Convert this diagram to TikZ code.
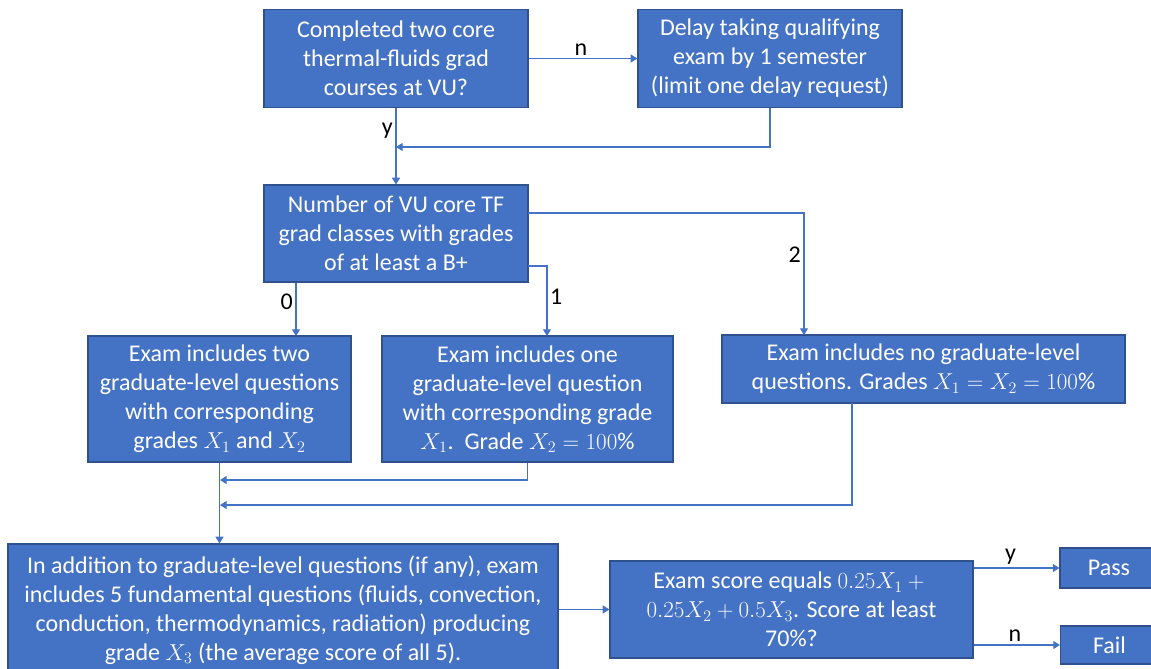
\documentclass[tikz,border=0pt]{standalone}
\usepackage{fontspec}
\setmainfont{Carlito}
\usetikzlibrary{arrows.meta}
\definecolor{boxfill}{HTML}{4472C4}
\definecolor{boxline}{HTML}{2F528F}
\definecolor{flowline}{HTML}{4472C4}
\begin{document}
\begin{tikzpicture}[x=0.75pt, y=-0.75pt,
		every node/.style={font=\fontsize{18}{21.75}\selectfont},
		block/.style={draw=boxline, line width=0.9pt, fill=boxfill, text=white, align=center, inner sep=0pt},
		flow/.style={draw=flowline, line width=0.8pt, -{Triangle[width=6pt,length=5pt]}},
		tag/.style={text=black, inner sep=2pt}]

		\useasboundingbox (0,0) rectangle (1151,668);

		% question du haut et report
		\node[block, minimum width=198pt, minimum height=73.5pt] (done) at (396,58.5)
			{Completed two core\\thermal-fluids grad\\courses at VU?};
		\node[block, minimum width=198pt, minimum height=73.5pt] (delay) at (770,58.5)
			{Delay taking qualifying\\exam by 1 semester\\(limit one delay request)};

		% nombre de cours
		\node[block, minimum width=198pt, minimum height=72.75pt] (count) at (396,233.5)
			{Number of VU core TF\\grad classes with grades\\of at least a B+};

		% trois cas
		\node[block, minimum width=197.25pt, minimum height=94.5pt] (two) at (219.5,399)
			{Exam includes two\\graduate-level questions\\with corresponding\\grades $X_1$ and $X_2$};
		\node[block, minimum width=218.25pt, minimum height=94.5pt] (one) at (527.5,399)
			{Exam includes one\\graduate-level question\\with corresponding grade\\$X_1$.\ \ Grade $X_2=100\%$};
		\node[block, minimum width=302.25pt, minimum height=51pt] (none) at (923.5,369)
			{Exam includes no graduate-level\\questions. Grades $X_1=X_2=100\%$};

		% questions fondamentales et score
		\node[block, minimum width=412.5pt, minimum height=99pt] (basic) at (283,610)
			{In addition to graduate-level questions (if any), exam\\includes 5 fundamental questions (fluids, convection,\\conduction, thermodynamics, radiation) producing\\grade $X_3$ (the average score of all 5).};
		\node[block, minimum width=272.25pt, minimum height=72.75pt] (score) at (791.5,609.5)
			{Exam score equals $0.25X_1+{}$\\$0.25X_2+0.5X_3$. Score at least\\70\%?};
		\node[block, minimum width=73.5pt, minimum height=30pt] (pass) at (1109,568) {Pass};
		\node[block, minimum width=73.5pt, minimum height=28.5pt] (fail) at (1109.5,645) {Fail};

		% points de jonction
		\coordinate (joinTop) at (396,147);
		\coordinate (zeroIn) at (296,336);
		\coordinate (oneOut) at (528,266);
		\coordinate (oneIn) at (547,336);
		\coordinate (twoOut) at (528,213);
		\coordinate (twoIn) at (804,335);
		\coordinate (joinOne) at (220,480);
		\coordinate (noneOut) at (852,403);
		\coordinate (joinNone) at (220,505);

		% fleches
		\draw[flow] (done) -- node[tag, above, pos=0.48] {n} (delay);
		\draw[flow] (done) -- node[tag, left, pos=0.3] {y} (count);
		\draw[flow] (delay.south) |- (joinTop);

		\draw[flow] (count.south -| zeroIn) -- node[tag, left, pos=0.36] {0} (zeroIn);
		\draw[flow] (oneOut) -| node[tag, right, pos=0.72] {1} (oneIn);
		\draw[flow] (twoOut) -| node[tag, left, pos=0.67] {2} (twoIn);

		\draw[flow] (two.south) -- (two.south |- basic.north);
		\draw[flow] (one.south) |- (joinOne);
		\draw[flow] (noneOut) |- (joinNone);

		\draw[flow] (basic.east |- score.west) -- (score.west);
		\draw[flow] (score.east |- pass) -- node[tag, above, pos=0.43] {y} (pass);
		\draw[flow] (score.east |- fail) -- node[tag, above, pos=0.48] {n} (fail);

	\end{tikzpicture}
\end{document}
